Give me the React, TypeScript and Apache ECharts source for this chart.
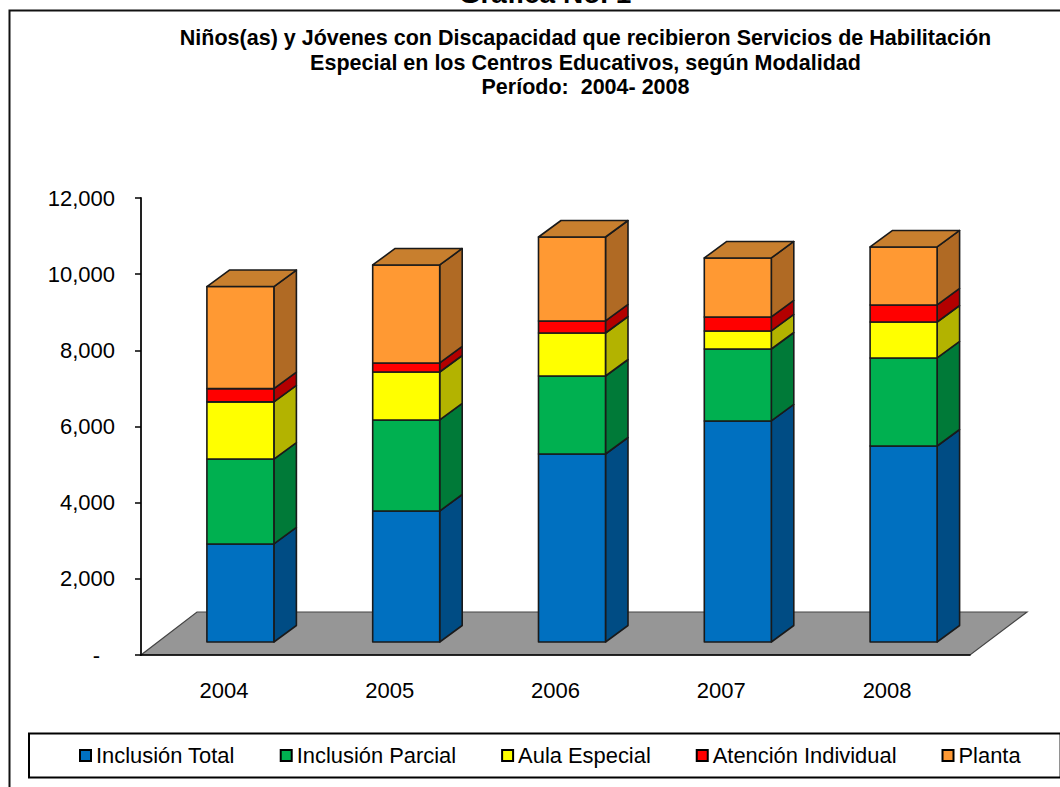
import React, { useEffect, useRef } from "react";
import * as echarts from "echarts";

const years = ["2004", "2005", "2006", "2007", "2008"];
const seriesNames = ["Inclusión Total", "Inclusión Parcial", "Aula Especial", "Atención Individual", "Planta"];
const inclusionTotal = [2574, 3440, 4937, 5804, 5147];
const inclusionParcial = [2230, 2390, 2048, 1890, 2311];
const aulaEspecial = [1500, 1260, 1129, 473, 945];
const atencionIndividual = [350, 237, 316, 368, 447];
const planta = [2680, 2573, 2205, 1549, 1523];
const yTicks = { min: 0, max: 12000, interval: 2000 };

const values = [inclusionTotal, inclusionParcial, aulaEspecial, atencionIndividual, planta];
const frontColors = ["#0070C0", "#00B050", "#FFFF00", "#FF0000", "#FF9933"];
const sideColors = ["#004C84", "#007A38", "#B3B300", "#B30000", "#B06A24"];
const topColor = "#C87F2E";
const edge = "#1a1a1a";

const BAR_W = 67;
const SHIFT_X = 16.5;
const SHIFT_Y = -13;
const DEPTH_X = 22.5;
const DEPTH_Y = -16.5;
const FLOOR_X = 57;
const FLOOR_Y = -43;

function barSeries(idx: number) {
  const data = years.map((_, i) => {
    let start = 0;
    for (let s = 0; s < idx; s++) start += values[s][i];
    return [i, start, start + values[idx][i]];
  });
  return {
    type: "custom",
    name: seriesNames[idx],
    itemStyle: { color: frontColors[idx] },
    encode: { x: 0, y: [1, 2] },
    data,
    z: 3,
    renderItem: (_p: any, api: any) => {
      const a = api.coord([api.value(0), api.value(1)]);
      const b = api.coord([api.value(0), api.value(2)]);
      const x0 = a[0] - BAR_W / 2 + SHIFT_X;
      const x1 = x0 + BAR_W;
      const y0 = a[1] + SHIFT_Y;
      const y1 = b[1] + SHIFT_Y;
      const line = { stroke: edge, lineWidth: 1.6, lineJoin: "round" };
      const children: any[] = [
        {
          type: "polygon",
          shape: { points: [[x1, y0], [x1 + DEPTH_X, y0 + DEPTH_Y], [x1 + DEPTH_X, y1 + DEPTH_Y], [x1, y1]] },
          style: { fill: sideColors[idx], ...line },
        },
        {
          type: "polygon",
          shape: { points: [[x0, y0], [x1, y0], [x1, y1], [x0, y1]] },
          style: { fill: frontColors[idx], ...line },
        },
      ];
      if (idx === values.length - 1) {
        children.push({
          type: "polygon",
          shape: { points: [[x0, y1], [x1, y1], [x1 + DEPTH_X, y1 + DEPTH_Y], [x0 + DEPTH_X, y1 + DEPTH_Y]] },
          style: { fill: topColor, ...line },
        });
      }
      return { type: "group", children };
    },
  };
}

const floorSeries = {
  type: "custom",
  name: "floor",
  silent: true,
  z: 1,
  encode: { x: 0, y: 1 },
  data: [[0, 0]],
  renderItem: (_p: any, api: any) => {
    const band = api.size([1, 0])[0];
    const l = api.coord([0, 0]);
    const r = api.coord([years.length - 1, 0]);
    const x0 = l[0] - band / 2;
    const x1 = r[0] + band / 2;
    const y = l[1];
    return {
      type: "polygon",
      shape: { points: [[x0, y], [x1, y], [x1 + FLOOR_X, y + FLOOR_Y], [x0 + FLOOR_X - 1, y + FLOOR_Y]] },
      style: { fill: "#969696", stroke: "#444", lineWidth: 1.2 },
    };
  },
};

export default function App() {
  const ref = useRef<HTMLDivElement>(null);
  useEffect(() => {
    const chart = echarts.init(ref.current!, null, { renderer: "svg" });
    chart.setOption({
      animation: false,
      backgroundColor: "#fff",
      textStyle: { fontFamily: "Liberation Sans" },
      graphic: [
        {
          type: "rect",
          z: -10,
          shape: { x: 9.5, y: 10.5, width: 1200, height: 900 },
          style: { fill: "#fff", stroke: "#111", lineWidth: 2 },
        },
        {
          type: "text",
          z: 10,
          x: 545,
          y: -21,
          style: {
            text: "Gráfica No. 1",
            fill: "#000",
            font: "bold 28px 'Liberation Sans'",
            align: "center",
            verticalAlign: "top",
          },
        },
      ],
      title: {
        text: "Niños(as) y Jóvenes con Discapacidad que recibieron Servicios de Habilitación\nEspecial en los Centros Educativos, según Modalidad\nPeríodo:  2004- 2008",
        left: 580.5,
        top: 21,
        textAlign: "center",
        textStyle: {
          fontFamily: "Liberation Sans",
          fontSize: 21.5,
          fontWeight: "bold",
          color: "#000",
          lineHeight: 24.5,
        },
      },
      grid: { left: 141, right: 90, top: 198, bottom: 132 },
      xAxis: {
        type: "category",
        data: years,
        z: 5,
        axisLine: { lineStyle: { color: "#000", width: 1.5 } },
        axisTick: { length: 6, lineStyle: { color: "#000", width: 1.5 } },
        axisLabel: { color: "#000", fontSize: 22, margin: 24, fontFamily: "Liberation Sans" },
      },
      yAxis: {
        type: "value",
        min: yTicks.min,
        max: yTicks.max,
        interval: yTicks.interval,
        z: 5,
        splitLine: { show: false },
        axisLine: { show: true, lineStyle: { color: "#222", width: 2 } },
        axisTick: { show: true, length: 6, lineStyle: { color: "#000", width: 1.5 } },
        axisLabel: {
          color: "#000",
          fontSize: 22,
          margin: 26,
          fontFamily: "Liberation Sans",
          formatter: (v: number) => (v === 0 ? "{d|-}" : v.toLocaleString("en-US")),
          rich: { d: { fontSize: 22, color: "#000", padding: [0, 15, 0, 0], fontFamily: "Liberation Sans" } },
        },
      },
      legend: {
        data: seriesNames,
        left: 29,
        top: 733.5,
        width: 1020,
        orient: "horizontal",
        icon: "rect",
        itemWidth: 11,
        itemHeight: 11,
        itemGap: 45,
        padding: [11, 40, 11, 50],
        backgroundColor: "#fff",
        borderColor: "#000",
        borderWidth: 2,
        borderRadius: 0,
        selectedMode: false,
        itemStyle: { borderColor: "#000", borderWidth: 2 },
        textStyle: { color: "#000", fontSize: 21.9, fontFamily: "Liberation Sans", padding: [0, 0, 0, 0] },
      },
      series: [floorSeries, ...seriesNames.map((_, i) => barSeries(i))],
    });
    return () => chart.dispose();
  }, []);
  return <div ref={ref} style={{ position: "absolute", left: 0, top: 0, width: 1060, height: 787 }} />;
}
